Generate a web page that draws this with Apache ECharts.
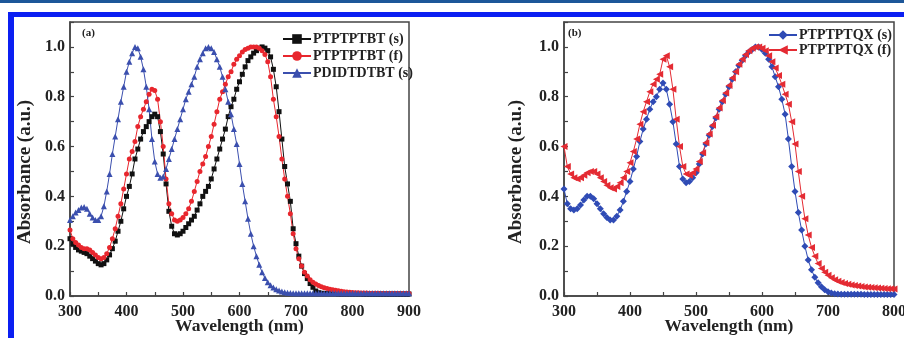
<!DOCTYPE html>
<html>
<head>
<meta charset="utf-8">
<script src="https://cdn.jsdelivr.net/npm/echarts@6/dist/echarts.min.js"></script>
<style>
	html, body { margin: 0; padding: 0; background: #fff; }
	#chart { width: 904px; height: 338px; }
</style>
</head>
<body>
<div id="chart"></div>
<script>
// wavelength grids (nm), 5 nm steps
const waveA = [];
for (let w = 300; w <= 900; w += 5) waveA.push(w);
const waveB = [];
for (let w = 300; w <= 800; w += 5) waveB.push(w);

// panel (a)
const ptbtS = [
	0.23, 0.21, 0.195, 0.185, 0.18, 0.175, 0.17, 0.16, 0.15, 0.14,
	0.13, 0.125, 0.13, 0.145, 0.165, 0.19, 0.22, 0.26, 0.30, 0.35,
	0.40, 0.44, 0.49, 0.55, 0.59, 0.63, 0.66, 0.68, 0.70, 0.72,
	0.73, 0.72, 0.66, 0.57, 0.45, 0.34, 0.28, 0.25, 0.245, 0.25,
	0.26, 0.275, 0.29, 0.305, 0.32, 0.345, 0.37, 0.40, 0.42, 0.44,
	0.47, 0.51, 0.55, 0.59, 0.63, 0.67, 0.72, 0.76, 0.79, 0.83,
	0.86, 0.89, 0.92, 0.945, 0.96, 0.975, 0.985, 0.995, 1.0, 0.995,
	0.985, 0.96, 0.91, 0.84, 0.74, 0.63, 0.52, 0.45, 0.38, 0.27,
	0.21, 0.16, 0.12, 0.09, 0.07, 0.05, 0.035, 0.02, 0.013, 0.011,
	0.01, 0.01, 0.01, 0.01, 0.01, 0.009, 0.009, 0.009, 0.009, 0.009,
	0.009, 0.009, 0.009, 0.009, 0.008, 0.008, 0.008, 0.008, 0.008, 0.008,
	0.008, 0.008, 0.008, 0.008, 0.008, 0.008, 0.008, 0.008, 0.008, 0.008,
	0.008
];
const ptbtF = [
	0.265, 0.23, 0.215, 0.205, 0.195, 0.19, 0.19, 0.185, 0.175, 0.165,
	0.155, 0.15, 0.155, 0.17, 0.195, 0.23, 0.27, 0.32, 0.37, 0.43,
	0.49, 0.55, 0.58, 0.62, 0.68, 0.72, 0.75, 0.78, 0.81, 0.83,
	0.825, 0.79, 0.70, 0.60, 0.47, 0.37, 0.33, 0.305, 0.30, 0.305,
	0.315, 0.33, 0.35, 0.38, 0.42, 0.46, 0.50, 0.53, 0.56, 0.60,
	0.64, 0.69, 0.74, 0.79, 0.82, 0.85, 0.88, 0.90, 0.93, 0.95,
	0.965, 0.98, 0.99, 0.995, 1.0, 1.0, 1.0, 0.995, 0.985, 0.97,
	0.94, 0.88, 0.79, 0.72, 0.64, 0.55, 0.47, 0.40, 0.33, 0.25,
	0.19, 0.15, 0.12, 0.095, 0.08, 0.065, 0.055, 0.048, 0.042, 0.037,
	0.033, 0.03, 0.027, 0.025, 0.023, 0.021, 0.019, 0.017, 0.016, 0.015,
	0.014, 0.013, 0.013, 0.012, 0.012, 0.012, 0.011, 0.011, 0.011, 0.011,
	0.01, 0.01, 0.01, 0.01, 0.01, 0.01, 0.01, 0.01, 0.01, 0.01,
	0.01
];
const pdidS = [
	0.305, 0.32, 0.335, 0.345, 0.355, 0.357, 0.35, 0.33, 0.315, 0.305,
	0.305, 0.32, 0.36, 0.42, 0.49, 0.57, 0.64, 0.71, 0.78, 0.84,
	0.90, 0.94, 0.975, 1.0, 0.995, 0.96, 0.91, 0.84, 0.75, 0.63,
	0.54, 0.49, 0.475, 0.48, 0.51, 0.55, 0.59, 0.63, 0.67, 0.71,
	0.75, 0.79, 0.82, 0.85, 0.88, 0.92, 0.95, 0.975, 0.995, 1.0,
	0.995, 0.98, 0.95, 0.92, 0.88, 0.83, 0.78, 0.73, 0.67, 0.61,
	0.53, 0.45, 0.38, 0.31, 0.25, 0.20, 0.16, 0.125, 0.095, 0.072,
	0.055, 0.043, 0.034, 0.027, 0.022, 0.018, 0.015, 0.013, 0.012, 0.011,
	0.011, 0.011, 0.011, 0.011, 0.011, 0.011, 0.011, 0.011, 0.011, 0.011,
	0.011, 0.011, 0.011, 0.011, 0.011, 0.011, 0.011, 0.011, 0.011, 0.011,
	0.011, 0.011, 0.011, 0.011, 0.011, 0.011, 0.011, 0.011, 0.011, 0.011,
	0.011, 0.011, 0.011, 0.011, 0.011, 0.011, 0.011, 0.011, 0.011, 0.011,
	0.011
];

// panel (b)
const ptqxS = [
	0.43, 0.37, 0.35, 0.345, 0.35, 0.365, 0.385, 0.40, 0.40, 0.39,
	0.37, 0.35, 0.33, 0.315, 0.305, 0.305, 0.32, 0.345, 0.38, 0.42,
	0.46, 0.51, 0.56, 0.62, 0.67, 0.71, 0.75, 0.78, 0.80, 0.83,
	0.855, 0.83, 0.77, 0.70, 0.61, 0.52, 0.47, 0.455, 0.46, 0.475,
	0.495, 0.53, 0.57, 0.61, 0.645, 0.68, 0.715, 0.75, 0.78, 0.81,
	0.84, 0.87, 0.90, 0.925, 0.945, 0.965, 0.98, 0.99, 1.0, 1.0,
	0.99, 0.975, 0.95, 0.92, 0.88, 0.84, 0.79, 0.73, 0.63, 0.52,
	0.42, 0.335, 0.265, 0.20, 0.145, 0.105, 0.075, 0.053, 0.037, 0.025,
	0.017, 0.012, 0.009, 0.008, 0.007, 0.007, 0.007, 0.007, 0.007, 0.007,
	0.007, 0.006, 0.006, 0.006, 0.006, 0.006, 0.006, 0.006, 0.006, 0.006,
	0.006
];
const ptqxF = [
	0.60, 0.52, 0.49, 0.475, 0.47, 0.475, 0.485, 0.495, 0.50, 0.50,
	0.49, 0.475, 0.46, 0.445, 0.435, 0.43, 0.44, 0.455, 0.475, 0.50,
	0.535, 0.58, 0.63, 0.69, 0.74, 0.78, 0.82, 0.85, 0.87, 0.89,
	0.95, 0.965, 0.92, 0.83, 0.71, 0.60, 0.52, 0.49, 0.485, 0.495,
	0.51, 0.54, 0.575, 0.615, 0.65, 0.685, 0.72, 0.755, 0.785, 0.815,
	0.845, 0.875, 0.90, 0.93, 0.95, 0.97, 0.985, 0.995, 1.0, 1.0,
	0.995, 0.985, 0.965, 0.94, 0.915, 0.885, 0.85, 0.81, 0.77, 0.70,
	0.61, 0.50, 0.40, 0.31, 0.245, 0.195, 0.16, 0.13, 0.11, 0.095,
	0.083, 0.073, 0.065, 0.059, 0.054, 0.05, 0.047, 0.044, 0.042, 0.04,
	0.038, 0.036, 0.035, 0.034, 0.033, 0.032, 0.031, 0.03, 0.029, 0.029,
	0.028
];

const FONT = "'Liberation Serif', 'Times New Roman', serif";
const pair = (xs, ys) => xs.map((x, i) => [x, ys[i]]);

const xAxisBase = (gridIndex, min, max) => ({
	type: "value",
	gridIndex,
	min,
	max,
	interval: 50,
	name: "Wavelength (nm)",
	nameLocation: "middle",
	nameGap: 21,
	nameMoveOverlap: false,
	nameTextStyle: { fontFamily: FONT, fontWeight: "bold", fontSize: 17.5, color: "#222" },
	axisLine: { lineStyle: { color: "#444", width: 1.5 } },
	axisTick: { inside: true, length: 4, lineStyle: { color: "#444", width: 1.2 } },
	axisLabel: {
		fontFamily: FONT, fontWeight: "bold", fontSize: 16, color: "#222", margin: 8,
		formatter: v => (v % 100 === 0 ? String(v) : "")
	},
	splitLine: { show: false }
});

const yAxisBase = gridIndex => ({
	type: "value",
	gridIndex,
	min: 0,
	max: 1.1,
	interval: 0.1,
	axisLine: { lineStyle: { color: "#444", width: 1.5 } },
	axisTick: { inside: true, length: 4, lineStyle: { color: "#444", width: 1.2 } },
	axisLabel: {
		fontFamily: FONT, fontWeight: "bold", fontSize: 16, color: "#222", margin: 5,
		formatter: v => (Math.round(v * 10) % 2 === 0 && v < 1.05 ? v.toFixed(1) : "")
	},
	splitLine: { show: false }
});

const lineSeries = (name, xIndex, data, color, symbol, size, rotate) => ({
	name,
	type: "line",
	xAxisIndex: xIndex,
	yAxisIndex: xIndex,
	data,
	showSymbol: true,
	symbol,
	symbolSize: size,
	symbolRotate: rotate || 0,
	itemStyle: { color },
	lineStyle: { color, width: 1 },
	animation: false
});

const legendText = { fontFamily: FONT, fontWeight: "bold", fontSize: 14, color: "#222", padding: [0, 0, 0, -3] };
const yName = (x, y) => ({
	type: "text",
	x,
	y,
	rotation: Math.PI / 2,
	style: {
		text: "Absorbance (a.u.)",
		font: "bold 19px " + FONT,
		fill: "#222",
		align: "center",
		verticalAlign: "middle"
	}
});

const chart = echarts.init(document.getElementById("chart"));
chart.setOption({
	animation: false,
	grid: [
		{ left: 70, top: 22, width: 339, height: 274, show: true, borderColor: "#444", borderWidth: 1.5, outerBoundsMode: "none" },
		{ left: 564, top: 22, width: 330, height: 274, show: true, borderColor: "#444", borderWidth: 1.5, outerBoundsMode: "none" }
	],
	xAxis: [xAxisBase(0, 300, 900), xAxisBase(1, 300, 800)],
	yAxis: [yAxisBase(0), yAxisBase(1)],
	legend: [
		{
			data: ["PTPTPTBT (s)", "PTPTPTBT (f)", "PDIDTDTBT (s)"],
			orient: "vertical",
			left: 277,
			top: 27,
			itemWidth: 28,
			itemHeight: 12,
			itemGap: 3,
			textStyle: legendText
		},
		{
			data: ["PTPTPTQX (s)", "PTPTPTQX (f)"],
			orient: "vertical",
			left: 763,
			top: 23,
			itemWidth: 28,
			itemHeight: 12,
			itemGap: 1,
			textStyle: legendText
		}
	],
	graphic: [
		{ type: "rect", shape: { x: 0, y: 0, width: 904, height: 3 }, style: { fill: "#1d5799" }, silent: true },
		{ type: "rect", shape: { x: 8, y: 12, width: 896, height: 5 }, style: { fill: "#0b1ff2" }, silent: true },
		{ type: "rect", shape: { x: 8, y: 12, width: 6, height: 326 }, style: { fill: "#0b1ff2" }, silent: true },
		{ type: "text", left: 82, top: 28, style: { text: "(a)", font: "bold 11px " + FONT, fill: "#222" } },
		{ type: "text", left: 568, top: 28, style: { text: "(b)", font: "bold 11px " + FONT, fill: "#222" } },
		yName(25, 172),
		yName(516, 172)
	],
	series: [
		lineSeries("PTPTPTBT (s)", 0, pair(waveA, ptbtS), "#111111", "rect", 5),
		lineSeries("PTPTPTBT (f)", 0, pair(waveA, ptbtF), "#e8262d", "circle", 5),
		lineSeries("PDIDTDTBT (s)", 0, pair(waveA, pdidS), "#3b4fae", "triangle", 6),
		lineSeries("PTPTPTQX (s)", 1, pair(waveB, ptqxS), "#2f4bb5", "diamond", 7),
		lineSeries("PTPTPTQX (f)", 1, pair(waveB, ptqxF), "#e42b33", "triangle", 7, 90)
	]
});
</script>
</body>
</html>
